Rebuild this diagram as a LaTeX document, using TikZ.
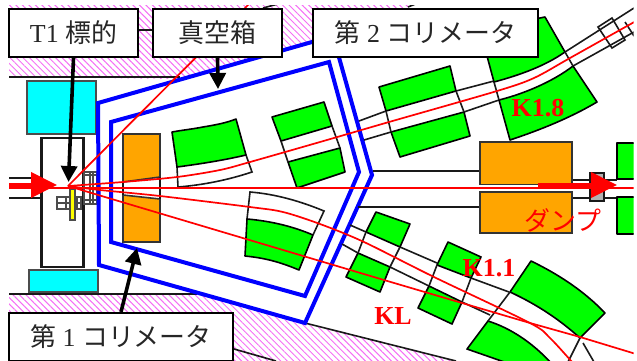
\documentclass[tikz,border=0pt]{standalone}
\usepackage{fontspec}
\setmainfont{Liberation Serif}
\newfontfamily\cjk{Noto Sans CJK JP}
\usetikzlibrary{arrows.meta,patterns.meta}
\definecolor{dumporange}{RGB}{255,165,0}
\definecolor{wallpink}{RGB}{245,110,245}
\definecolor{magnetgreen}{RGB}{0,255,0}
\definecolor{shieldcyan}{RGB}{0,255,255}
\definecolor{targetyellow}{RGB}{255,255,0}
\definecolor{beamred}{RGB}{255,0,0}
\definecolor{vesselblue}{RGB}{0,0,255}
\tikzset{
  magnet/.style={draw=black,fill=magnetgreen,line width=1.6bp,line join=round},
  tube/.style={draw=black!90,line width=1.6bp},
  beam/.style={draw=beamred,line width=1.7bp},
  vessel/.style={draw=vesselblue,line width=4bp,line join=miter},
  wall/.style={pattern={Lines[angle=-45,distance=4.6bp,line width=1bp]},pattern color=wallpink},
  labelbox/.style={draw=black,fill=white,line width=2.2bp,minimum height=48bp,inner sep=0pt,text=black!85,font=\fontsize{26}{26}\selectfont},
  callout/.style={draw=black,line width=3.6bp,-{Triangle[length=16bp,width=16bp]}},
  beamarrow/.style={draw=beamred,line width=4bp,-{Triangle[length=26bp,width=25bp]}},
  beamlabel/.style={text=beamred,font=\fontsize{26}{26}\selectfont\bfseries}
}
\begin{document}
\begin{tikzpicture}[x=1bp,y=-1bp]
\useasboundingbox (0,0) rectangle (637,360);
\begin{scope}
\clip (8,5) rectangle (633.5,362);
%walls
\fill[wall] (9,5) -- (410,5) -- (390,30) -- (333,36) -- (180,79) -- (9,77) -- cycle;
\fill[wall] (9,294) -- (197,294) -- (305,323) -- (456,361) -- (9,361) -- cycle;
\draw[tube] (9,77) -- (180,77);
\draw[tube] (138,30) -- (153,30);
\draw[tube] (263,8) -- (278,4);
\draw[tube] (408,7) -- (418,3);
\draw[tube] (9,294) -- (197,294);
\draw[tube] (305,323) -- (456,361);
\draw[tube] (234,349) -- (276,361);
%target station
\draw[draw=black!70,fill=shieldcyan,line width=1.6bp] (27,81) rectangle (96,134);
\draw[draw=black!70,fill=shieldcyan,line width=1.6bp] (29,270) rectangle (98,292);
\draw[tube,line width=2.2bp] (41.5,138) rectangle (83.5,267);
\draw[tube] (9,178) -- (41,178);
\draw[tube] (9,198) -- (41,198);
\draw[tube,black!70] (57,197) rectangle (81,209);
\draw[tube,black!70] (57,203) -- (81,203);
\foreach \x in {66,77}
\draw[tube,black!70] (\x,197) -- (\x,209);
\draw[draw=black!70,fill=targetyellow,line width=1.2bp] (70,189) rectangle (75,220);
%flange
\draw[tube,black!70] (84,172) rectangle (97,204);
\foreach \y in {175,200}
\draw[tube,black!70] (84,\y) -- (97,\y);
\foreach \x in {90,93}
\draw[tube,black!70] (\x,172) -- (\x,204);
%vacuum vessel
\draw[vessel] (98,103) -- (333,36) -- (372,175) -- (305,323) -- (99,265) -- cycle;
\draw[vessel] (111,122) -- (329,62) -- (359,172) -- (305,296) -- (111,242) -- cycle;
%first collimator
\draw[draw=black!80,fill=dumporange,line width=1.6bp] (123,134) -- (160,134) -- (160,177) -- (123,182) -- cycle;
\draw[draw=black!80,fill=dumporange,line width=1.6bp] (123,195) -- (160,199) -- (160,242) -- (123,242) -- cycle;
\draw[tube] (123,182) -- (123,195) (160,177) -- (160,199);
%tubes
\draw[tube] (359,121) -- (386,111) (456,91) -- (494,81);
\draw[tube] (364,140) -- (391,132) (464,112) -- (499,100);
\draw[tube] (565,52) -- (634,8) (573,66) -- (634,32);
\draw[tube] (598,27) -- (612,18) -- (625,40) -- (612,48) -- cycle;
\draw[tube] (625,22) -- (634,36);
\draw[tube] (373,171) -- (480,171) (358,207) -- (480,207);
\draw[tube] (572,180) -- (617,180) (572,198) -- (617,198);
\draw[tube,fill=black!30] (590,173) rectangle (604,201);
\draw[tube] (350,225) -- (366,232) (400,247) -- (437,263);
\draw[tube] (342,244) -- (358,253) (390,267) -- (429,286);
\draw[tube] (471,278) -- (509,292) (462,302) -- (490,315);
\draw[tube] (580,338) -- (568,362) (583,343) -- (594,362);
%magnets, upper line
\draw[tube] (177,167) -- (178,187) .. controls (203,185) and (228,180) .. (252,172) -- (246,155);
\draw[magnet] (172,132) .. controls (183,130) and (193,129) .. (203,127) .. controls (215,125) and (226,123) .. (236,119) -- (246,155) .. controls (225,160) and (200,164) .. (177,167) -- cycle;
\draw[magnet] (272,117) -- (324,102) -- (332,126) -- (281,141) -- cycle;
\draw[magnet] (288,162) -- (340,148) -- (345,172) -- (297,188) -- cycle;
\draw[tube] (281,141) -- (288,162) (332,126) -- (340,148);
\draw[magnet] (379,87) -- (450,66) -- (456,91) -- (386,111) -- cycle;
\draw[magnet] (391,132) -- (464,112) -- (470,136) -- (400,157) -- cycle;
\draw[tube] (386,111) -- (391,132) (456,91) -- (464,112);
\draw[magnet] (480,30) -- (545,17) -- (565,52) .. controls (545,66) and (520,75) .. (494,82) -- cycle;
\draw[magnet] (499,100) .. controls (527,93) and (555,80) .. (573,66) -- (597,102) .. controls (570,118) and (540,130) .. (510,140) -- cycle;
\draw[tube] (494,82) -- (499,100) (565,52) -- (573,66);
%dump
\draw[draw=black!80,fill=dumporange,line width=1.6bp] (480,142) rectangle (572,184.5);
\draw[draw=black!80,fill=dumporange,line width=1.6bp] (480,192) rectangle (572,233);
\draw[magnet] (617,143) rectangle (640,179);
\draw[magnet] (617,197) rectangle (640,234);
%magnets, lower lines
\draw[tube] (247,219) -- (250,192) .. controls (275,194) and (300,201) .. (324,211) -- (313,235);
\draw[magnet] (247,219) .. controls (270,221) and (292,226) .. (313,235) -- (299,270) .. controls (280,262) and (265,258) .. (245,256) -- cycle;
\draw[magnet] (376,212) -- (410,224) -- (400,247) -- (366,232) -- cycle;
\draw[magnet] (358,253) -- (390,267) -- (380,292) -- (346,277) -- cycle;
\draw[tube] (366,232) -- (358,253) (400,247) -- (390,267);
\draw[magnet] (448,242) -- (481,257) -- (471,278) -- (437,265) -- cycle;
\draw[magnet] (429,286) -- (462,302) -- (452,324) -- (418,308) -- cycle;
\draw[tube] (437,265) -- (429,286) (471,278) -- (462,302);
\draw[magnet] (531,261) .. controls (560,275) and (585,292) .. (605,313) -- (580,338) .. controls (560,320) and (538,305) .. (510,292) -- cycle;
\draw[magnet] (488,321) .. controls (510,328) and (532,342) .. (552,364) -- (510,364) -- (467,349) -- cycle;
\draw[tube] (510,292) -- (488,321);
%beam lines
\draw[beam] (9,188) -- (634,188);
\draw[beam] (68,186) -- (252,1);
\draw[beam] plot[smooth] coordinates{(68,186) (123,182) (177,177) (220,170) (250,162) (320,142) (389,122) (497,91) (534,78) (570,58) (636,21)};
\draw[beam] plot[smooth] coordinates{(68,186) (100,190) (160,196) (250,207) (283,212) (320,224) (364,242) (434,277) (530,323) (550,338) (572,362)};
\draw[beam] (68,186) -- (320,261) -- (384,280) -- (462,303) -- (530,323) -- (580,337) -- (636,354);
\draw[beamarrow] (9,185) -- (57,185);
\draw[beamarrow] (538,185) -- (617,185);
%labels
\node[labelbox,minimum width=129bp] (t1box) at (73.5,33) {T1 {\cjk 標的}};
\node[labelbox,minimum width=129bp] (chamberbox) at (217.5,33) {\cjk 真空箱};
\node[labelbox,minimum width=225bp] (coll2box) at (425.5,33) {{\cjk 第} 2 {\cjk コリメータ}};
\node[labelbox,minimum width=224bp] (coll1box) at (121,337) {{\cjk 第} 1 {\cjk コリメータ}};
\coordinate (t1tip) at (68.5,182);
\coordinate (chambertip) at (218,89);
\coordinate (coll1tip) at (137,248);
\draw[callout] (t1box.south) -- (t1tip);
\draw[callout] (chamberbox.south) -- (chambertip);
\draw[callout] (coll1box.north) -- (coll1tip);
\node[beamlabel] (k18label) at (538,108) {K1.8};
\node[beamlabel] (k11label) at (489,268) {K1.1};
\node[beamlabel] (kllabel) at (393,316) {KL};
\node[text=beamred,font=\fontsize{26}{26}\selectfont\cjk] (dumplabel) at (563,220) {ダンプ};
\end{scope}
\end{tikzpicture}
\end{document}
